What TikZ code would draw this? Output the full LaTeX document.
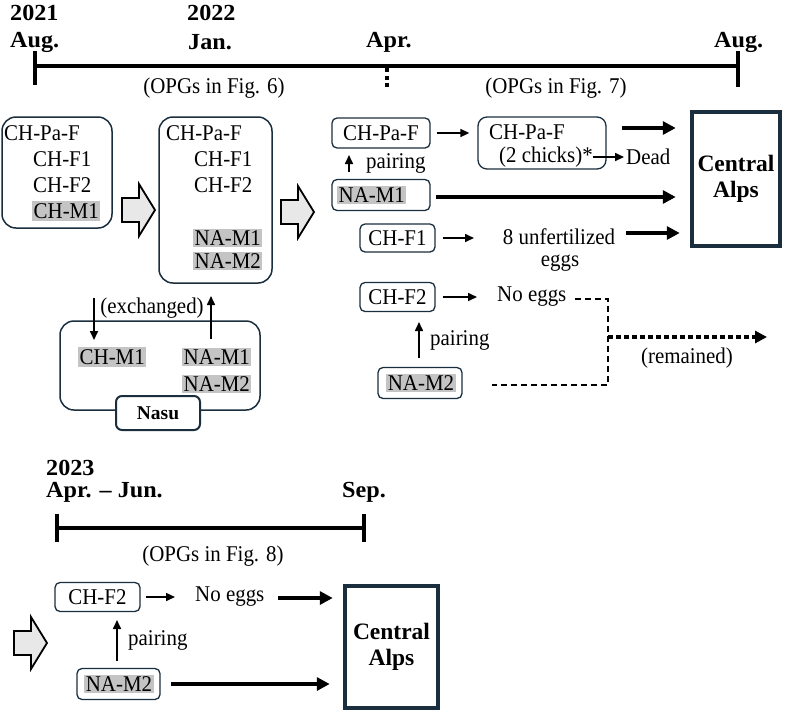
\documentclass[tikz,border=0pt]{standalone}
\usepackage{fontspec}
\setmainfont{Liberation Serif}
\newfontfamily\regf[FakeStretch=0.93,Ligatures=TeX]{Liberation Serif}
\newfontfamily\tlf[FakeStretch=1.05,Ligatures=TeX]{Liberation Serif}
\usetikzlibrary{arrows.meta}
\definecolor{navy}{HTML}{1A2E3D}
\definecolor{hl}{HTML}{C4C4C4}
\definecolor{blkfill}{HTML}{E8E8E8}
\begin{document}
\begin{tikzpicture}[x=1pt,y=-1pt,
  txt/.style={font=\regf\fontsize{22.5}{24}\selectfont, inner sep=0pt},
  bld/.style={font=\tlf\fontsize{23}{25}\selectfont\bfseries, inner sep=0pt},
  hlt/.style={txt, fill=hl, inner xsep=1.5pt, inner ysep=2pt},
  rbox/.style={draw=navy, line width=1.3pt, rounded corners=5pt, inner sep=0pt, font=\regf\fontsize{22.5}{24}\selectfont},
  grp/.style={draw=navy, line width=1.5pt, rounded corners=14pt, inner sep=0pt},
  alps/.style={draw=navy, line width=4.5pt, align=center, inner sep=0pt, font=\fontsize{23.5}{26}\selectfont\bfseries},
  thinarr/.style={-{Triangle[length=9pt,width=8pt]}, line width=1.6pt},
  thickarr/.style={-{Triangle[length=13pt,width=13pt]}, line width=4.5pt},
  tline/.style={line width=3.8pt},
  blockarrow/.pic={\draw[line width=1.8pt, fill=blkfill, line join=miter]
     (0,-12)--(17,-12)--(17,-26)--(33,0)--(17,26)--(17,12)--(0,12)--cycle;}
]
\useasboundingbox (0,0) rectangle (787,710);

% ---------- top timeline ----------
\node[bld, anchor=west] (y2021) at (10,13) {2021};
\node[bld, anchor=west] (aug1) at (10,42) {Aug.};
\node[bld, anchor=west] (y2022) at (187,13) {2022};
\node[bld, anchor=west] (jan) at (188,42) {Jan.};
\node[bld, anchor=west] (apr) at (366,42) {Apr.};
\node[bld, anchor=west] (aug2) at (714,42) {Aug.};
\coordinate (tlA) at (35,66);
\coordinate (tlB) at (738,66);
\draw[tline] (tlA) -- (tlB);
\draw[tline] (35,51) -- (35,85);
\draw[tline] (738,51) -- (738,87);
\draw[line width=4pt, dash pattern=on 4pt off 3.5pt] (387,68) -- (387,90);
\node[txt] (opg6) at (214,88) {(OPGs in Fig. 6)};
\node[txt] (opg7) at (556,88) {(OPGs in Fig. 7)};

% ---------- group 1 ----------
\node[grp, minimum width=110pt, minimum height=111pt] (g1) at (57,172.5) {};
\node[txt, anchor=west] (g1a) at (4,133) {CH-Pa-F};
\node[txt, anchor=west] (g1b) at (33,159) {CH-F1};
\node[txt, anchor=west] (g1c) at (33,185) {CH-F2};
\node[hlt, anchor=west] (g1d) at (32,211) {CH-M1};

\pic at (122,210) {blockarrow};

% ---------- group 2 ----------
\node[grp, minimum width=113pt, minimum height=166pt] (g2) at (215.5,200) {};
\node[txt, anchor=west] (g2a) at (166,133) {CH-Pa-F};
\node[txt, anchor=west] (g2b) at (194,159) {CH-F1};
\node[txt, anchor=west] (g2c) at (194,185) {CH-F2};
\node[hlt, anchor=west] (g2d) at (193,238) {NA-M1};
\node[hlt, anchor=west] (g2e) at (193,261) {NA-M2};

\pic at (281,212) {blockarrow};

% ---------- Nasu ----------
\node[grp, minimum width=200pt, minimum height=89pt] (nasu) at (160,365.5) {};
\node[hlt, anchor=west] (n1) at (78,357) {CH-M1};
\node[hlt, anchor=west] (n2) at (182,357) {NA-M1};
\node[hlt, anchor=west] (n3) at (182,384) {NA-M2};
\node[draw=navy, line width=2pt, rounded corners=6pt, fill=white, minimum width=84pt, minimum height=34pt, inner sep=0pt, font=\fontsize{19.5}{22}\selectfont\bfseries] (nasul) at (158,413) {Nasu};
\coordinate (exA1) at (94,298);
\coordinate (exA2) at (94,340);
\coordinate (exB1) at (211,339);
\coordinate (exB2) at (211,296);
\draw[thinarr] (exA1) -- (exA2);
\draw[thinarr] (exB1) -- (exB2);
\node[txt] (exch) at (152,308) {(exchanged)};

% ---------- right section 2022 ----------
\node[rbox, minimum width=98pt, minimum height=30pt] (pa) at (381,133) {CH-Pa-F};
\node[rbox, minimum width=98pt, minimum height=31pt] (na1) at (381,195) {};
\node[hlt, anchor=west] (na1t) at (337,195) {NA-M1};
\node[rbox, minimum width=128pt, minimum height=52pt, rounded corners=9pt] (pa2) at (542,143) {};
\node[txt, anchor=west] (pa2a) at (489,132) {CH-Pa-F};
\node[txt, anchor=west] (pa2b) at (499,157) {(2 chicks)*};
\node[txt, anchor=west] (dead) at (626,157) {Dead};
\node[alps, minimum width=88pt, minimum height=134pt] (alps) at (736,179) {Central\\[0pt]Alps};

\draw[thinarr, shorten <=6pt, shorten >=8pt] (pa.east) -- (pa.east -| pa2.west);
\coordinate (pr1) at (349,172);
\coordinate (pr2) at (349,155);
\draw[thinarr] (pr1) -- (pr2);
\node[txt, anchor=west] (pair1) at (366,163) {pairing};
\coordinate (dd) at (593,157);
\draw[thinarr, shorten >=2pt] (dd) -- (dead.west);
\coordinate (t1) at (622,128);
\draw[thickarr, shorten >=14pt] (t1) -- (t1 -| alps.west);
\coordinate (t2) at (436,197);
\draw[thickarr, shorten >=14pt] (t2) -- (t2 -| alps.west);

\node[rbox, minimum width=75pt, minimum height=28pt] (f1) at (397.5,238) {CH-F1};
\node[txt] (u1) at (559,237) {8 unfertilized};
\node[txt] (u2) at (560,263) {eggs};
\draw[thinarr, shorten <=7pt, shorten >=2pt] (f1.east) -- (476,238);
\coordinate (t3) at (626,233);
\draw[thickarr, shorten >=10pt] (t3) -- (t3 -| alps.west);

\node[rbox, minimum width=75pt, minimum height=29pt] (f2) at (397.5,297) {CH-F2};
\node[txt, anchor=west] (ne) at (497,297) {No eggs};
\draw[thinarr, shorten <=7pt, shorten >=20pt] (f2.east) -- (ne.west);
\node[rbox, minimum width=84pt, minimum height=31pt] (m2) at (420,383) {};
\node[hlt] (m2t) at (421,383) {NA-M2};
\coordinate (pq1) at (419,358);
\coordinate (pq2) at (419,322);
\draw[thinarr] (pq1) -- (pq2);
\node[txt, anchor=west] (pair2) at (430,340) {pairing};
\coordinate (dA) at (575,299);
\coordinate (dB) at (608,299);
\coordinate (dC) at (608,385);
\coordinate (dD) at (492,385);
\draw[line width=1.8pt, dash pattern=on 6pt off 4pt] (dA) -- (dB) -- (dC) -- (dD);
\coordinate (rm1) at (608,337);
\coordinate (rm2) at (767,337);
\draw[line width=4.5pt, dash pattern=on 4.5pt off 3.5pt, -{Triangle[length=12pt,width=12pt]}] (rm1) -- (rm2);
\node[txt] (rem) at (687,358) {(remained)};

% ---------- 2023 ----------
\node[bld, anchor=west] (y2023) at (46,468) {2023};
\node[bld, anchor=west] (aj) at (46,492) {Apr. – Jun.};
\node[bld, anchor=west] (sep) at (342,492) {Sep.};
\coordinate (tlC) at (57,528);
\coordinate (tlD) at (364,528);
\draw[tline] (tlC) -- (tlD);
\draw[tline] (57,514) -- (57,542);
\draw[tline] (364,514) -- (364,542);
\node[txt] (opg8) at (213,556) {(OPGs in Fig. 8)};

\pic at (14,643) {blockarrow};
\node[rbox, minimum width=85pt, minimum height=29pt] (f2b) at (97.5,597) {CH-F2};
\node[txt, anchor=west] (neb) at (195,597) {No eggs};
\draw[thinarr, shorten <=5pt, shorten >=20pt] (f2b.east) -- (neb.west);
\node[alps, minimum width=93pt, minimum height=122pt] (alps2) at (391.5,647) {Central\\[0pt]Alps};
\coordinate (t4) at (278,598);
\draw[thickarr, shorten >=10pt] (t4) -- (t4 -| alps2.west);
\node[rbox, minimum width=83pt, minimum height=31pt] (m2b) at (118.5,684) {};
\node[hlt] (m2bt) at (119,684) {NA-M2};
\coordinate (pb1) at (117,661);
\coordinate (pb2) at (117,620);
\draw[thinarr] (pb1) -- (pb2);
\node[txt, anchor=west] (pair3) at (128,640) {pairing};
\draw[thickarr, shorten <=10pt, shorten >=13pt] (m2b.east) -- (m2b.east -| alps2.west);
\end{tikzpicture}
\end{document}
